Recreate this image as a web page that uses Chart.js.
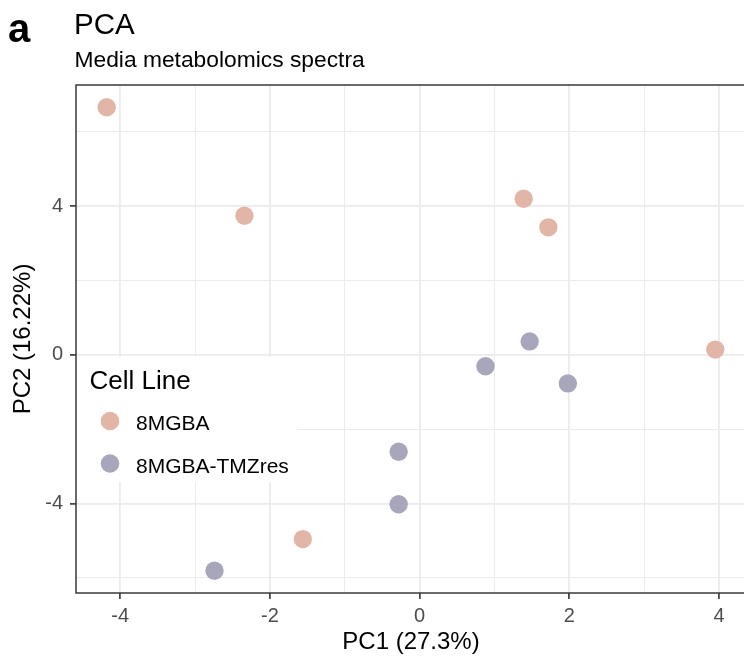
<!DOCTYPE html>
<html><head><meta charset="utf-8">
<script src="https://cdn.jsdelivr.net/npm/chart.js@4/dist/chart.umd.min.js"></script>
<style>
html,body{margin:0;padding:0;background:#fff;overflow:hidden;width:744px;height:662px}
#wrap{position:relative;width:760px;height:662px}
canvas{display:block}
</style>
</head><body><div id="wrap"><canvas id="c" width="760" height="662"></canvas></div>
<script>
const panelLabel = 'a';
const titleText = 'PCA';
const subtitleText = 'Media metabolomics spectra';
const xAxisTitle = 'PC1 (27.3%)';
const yAxisTitle = 'PC2 (16.22%)';
const legendTitle = 'Cell Line';
const seriesNames = ['8MGBA', '8MGBA-TMZres'];
const seriesColors = ['#E2B6A7', '#A8A6BA'];
const pc1_8MGBA = [-4.18, -2.34, 1.39, 1.72, 3.95, -1.56];
const pc2_8MGBA = [6.66, 3.74, 4.20, 3.43, 0.14, -4.96];
const pc1_TMZres = [1.47, 0.88, 1.98, -0.28, -0.28, -2.74];
const pc2_TMZres = [0.36, -0.31, -0.77, -2.61, -4.02, -5.81];
const xMajorTicks = [-4, -2, 0, 2, 4];
const xMinorTicks = [-3, -1, 1, 3];
const yMajorTicks = [-4, 0, 4];
const yMinorTicks = [-6, -2, 2, 6];
const xLimits = [-4.59, 4.36];
const yLimits = [-6.41, 7.26];

const FONT = '"Liberation Sans", Arial, Helvetica, sans-serif';

function toPoints(xs, ys) { return xs.map((x, i) => ({x: x, y: ys[i]})); }

const isMajor = (arr, v) => arr.some(m => Math.abs(m - v) < 1e-9);

const headerPlugin = {
  id: 'header',
  afterDraw(chart) {
    const ctx = chart.ctx;
    ctx.save();
    ctx.fillStyle = '#000';
    ctx.textBaseline = 'alphabetic';
    ctx.textAlign = 'left';
    ctx.font = 'bold 40px ' + FONT;
    ctx.fillText(panelLabel, 8, 42);
    ctx.font = '29.5px ' + FONT;
    ctx.fillText(titleText, 74, 34);
    ctx.font = '22.8px ' + FONT;
    ctx.fillText(subtitleText, 74.5, 66.5);
    // panel border
    const a = chart.chartArea;
    ctx.strokeStyle = '#3a3a3a';
    ctx.lineWidth = 1.5;
    ctx.strokeRect(a.left, a.top, a.right - a.left, a.bottom - a.top);
    ctx.restore();
  }
};

const legendPlugin = {
  id: 'insideLegend',
  afterDatasetsDraw(chart) {
    const ctx = chart.ctx;
    ctx.save();
    ctx.fillStyle = '#fff';
    ctx.fillRect(77, 357, 220, 125);
    ctx.fillStyle = '#000';
    ctx.textAlign = 'left';
    ctx.textBaseline = 'alphabetic';
    ctx.font = '26px ' + FONT;
    ctx.fillText(legendTitle, 89.5, 389);
    ctx.font = '21px ' + FONT;
    chart.data.datasets.forEach((ds, i) => {
      const cy = 421 + i * 42.5;
      ctx.beginPath();
      ctx.fillStyle = ds.backgroundColor;
      ctx.arc(110, cy, 9.3, 0, Math.PI * 2);
      ctx.fill();
      ctx.fillStyle = '#000';
      ctx.fillText(ds.label, 136, cy + 9);
    });
    ctx.restore();
  }
};

const gridColor = '#EBEBEB';

new Chart(document.getElementById('c'), {
  type: 'scatter',
  data: {
    datasets: [
      {label: seriesNames[0], data: toPoints(pc1_8MGBA, pc2_8MGBA), backgroundColor: seriesColors[0], borderWidth: 0, pointRadius: 9.2},
      {label: seriesNames[1], data: toPoints(pc1_TMZres, pc2_TMZres), backgroundColor: seriesColors[1], borderWidth: 0, pointRadius: 9.2}
    ]
  },
  options: {
    responsive: false,
    animation: false,
    events: [],
    devicePixelRatio: 1,
    layout: {padding: {top: 85, right: 14, left: 0, bottom: 0}},
    plugins: {legend: {display: false}, tooltip: {enabled: false}, title: {display: false}},
    scales: {
      x: {
        type: 'linear', position: 'bottom',
        min: xLimits[0], max: xLimits[1],
        afterBuildTicks: s => { s.ticks = xMajorTicks.concat(xMinorTicks).sort((a, b) => a - b).map(v => ({value: v})); },
        afterFit: s => { s.height = 69; },
        border: {display: false},
        grid: {
          color: gridColor,
          lineWidth: c => isMajor(xMajorTicks, c.tick.value) ? 1.8 : 1.0,
          tickColor: c => isMajor(xMajorTicks, c.tick.value) ? '#333' : 'rgba(0,0,0,0)',
          tickWidth: 1.6,
          tickLength: 6
        },
        ticks: {
          autoSkip: false, maxRotation: 0, padding: 5,
          color: '#4D4D4D', font: {family: FONT, size: 20},
          callback: v => isMajor(xMajorTicks, v) ? String(v) : ''
        },
        title: {display: true, text: xAxisTitle, color: '#000', font: {family: FONT, size: 24, lineHeight: 1}, padding: {top: 0, bottom: 7.5}}
      },
      y: {
        type: 'linear', position: 'left',
        min: yLimits[0], max: yLimits[1],
        afterBuildTicks: s => { s.ticks = yMajorTicks.concat(yMinorTicks).sort((a, b) => a - b).map(v => ({value: v})); },
        afterFit: s => { s.width = 76; },
        border: {display: false},
        grid: {
          color: gridColor,
          lineWidth: c => isMajor(yMajorTicks, c.tick.value) ? 1.8 : 1.0,
          tickColor: c => isMajor(yMajorTicks, c.tick.value) ? '#333' : 'rgba(0,0,0,0)',
          tickWidth: 1.6,
          tickLength: 6
        },
        ticks: {
          autoSkip: false, padding: 7,
          color: '#4D4D4D', font: {family: FONT, size: 20},
          callback: v => isMajor(yMajorTicks, v) ? String(v) : ''
        },
        title: {display: true, text: yAxisTitle, color: '#000', font: {family: FONT, size: 24, lineHeight: 1}, padding: {top: 11, bottom: 0}}
      }
    }
  },
  plugins: [legendPlugin, headerPlugin]
});
</script>
</body></html>
